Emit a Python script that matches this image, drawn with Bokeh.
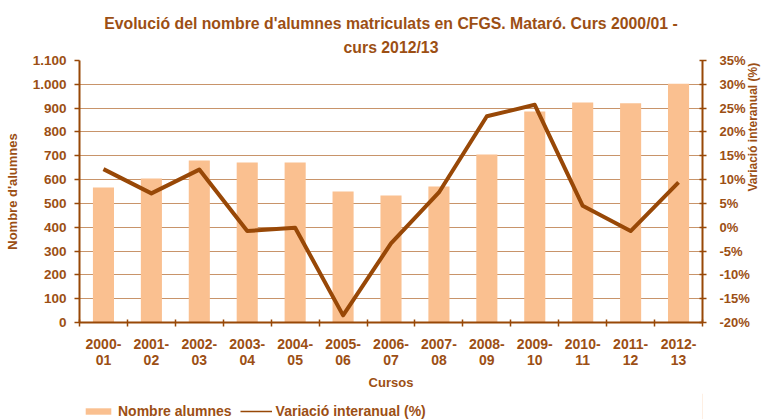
import math
from bokeh.plotting import figure
from bokeh.layouts import column
from bokeh.models import (Range1d, LinearAxis, FixedTicker, Title, Legend, LegendItem,
                          ColumnDataSource)
from bokeh.embed import file_html
from bokeh.resources import INLINE

# ---- data ----
cursos = ["2000-\n01", "2001-\n02", "2002-\n03", "2003-\n04", "2004-\n05", "2005-\n06",
          "2006-\n07", "2007-\n08", "2008-\n09", "2009-\n10", "2010-\n11", "2011-\n12",
          "2012-\n13"]
alumnes = [567, 605, 680, 672, 672, 550, 533, 571, 705, 886, 924, 920, 1002]
variacio = [12.2, 7.1, 12.1, -0.8, -0.1, -18.5, -3.4, 7.3, 23.3, 25.7, 4.5, -0.8, 9.4]
left_ticks = list(range(0, 1101, 100))
right_ticks = list(range(-20, 36, 5))

TXT = "#9C4F14"
AX = "#984807"
BAR = "#FAC090"
LINE = "#984807"
GRID = "#C8946A"
FONT = "Liberation Sans"

xpos = [i + 0.5 for i in range(len(cursos))]
src = ColumnDataSource(dict(x=xpos, alumnes=alumnes, variacio=variacio))

p = figure(width=769, height=393, output_backend="svg", toolbar_location=None,
           x_range=Range1d(0, len(cursos)), y_range=Range1d(0, 1100),
           min_border_left=79, min_border_right=66, min_border_top=60, min_border_bottom=71)
p.outline_line_color = None
p.extra_y_ranges = {"pct": Range1d(-20, 35)}

bars = p.vbar(x="x", top="alumnes", width=0.44, source=src, fill_color=BAR, line_color=None)
line = p.line(x="x", y="variacio", source=src, y_range_name="pct", line_color=LINE,
              line_width=4, line_join="round")

# x axis
xa = p.xaxis[0]
xa.ticker = FixedTicker(ticks=xpos, minor_ticks=list(range(len(cursos) + 1)))
xa.major_label_overrides = {x: c for x, c in zip(xpos, cursos)}
xa.major_tick_line_color = None
xa.minor_tick_line_color = AX
xa.minor_tick_line_width = 1.5
xa.minor_tick_in = 3
xa.minor_tick_out = 4
xa.axis_label = "Cursos"

# left axis
ya = p.yaxis[0]
ya.ticker = FixedTicker(ticks=left_ticks)
ya.major_label_overrides = {t: f"{t:,}".replace(",", ".") for t in left_ticks}
ya.axis_label = "Nombre d'alumnes"
ya.minor_tick_line_color = None
ya.major_tick_in = 0
ya.major_tick_out = 5

# right axis
ra = LinearAxis(y_range_name="pct", ticker=FixedTicker(ticks=right_ticks))
ra.major_label_overrides = {t: f"{t}%" for t in right_ticks}
ra.minor_tick_line_color = None
ra.major_tick_in = 3
ra.major_tick_out = 4
ra.axis_label = "Variació interanual (%)"
p.add_layout(ra, "right")

for ax in (xa, ya, ra):
    ax.axis_line_color = AX
    ax.axis_line_width = 2
    ax.major_tick_line_width = 1.5
    if ax is not xa:
        ax.major_tick_line_color = AX
    ax.major_label_text_font = FONT
    ax.major_label_text_font_style = "bold"
    ax.major_label_text_font_size = "13.5px"
    ax.major_label_text_color = TXT
    ax.axis_label_text_font = FONT
    ax.axis_label_text_font_style = "bold"
    ax.axis_label_text_font_size = "13px"
    ax.axis_label_text_color = TXT

xa.major_label_text_font_size = "14px"
xa.major_label_text_line_height = 1.05
xa.major_label_standoff = 7
xa.axis_label_standoff = 4
ya.major_label_standoff = 8
ya.axis_label_standoff = 10
ra.major_label_text_font_size = "13px"
ra.major_label_standoff = 13
ra.axis_label_standoff = 0
ra.axis_label_text_font_size = "12px"
try:
    ra.axis_label_orientation = math.pi / 2
except AttributeError:
    pass

p.xgrid.grid_line_color = None
p.ygrid.ticker = FixedTicker(ticks=left_ticks)
p.ygrid.grid_line_color = GRID
p.ygrid.grid_line_width = 1

# title (two lines)
p.add_layout(Title(text="curs 2012/13", align="center", offset=-9.5, text_font=FONT,
                   text_font_style="bold", text_font_size="15.8px", text_color=TXT,
                   standoff=10), "above")
p.add_layout(Title(text="Evolució del nombre d'alumnes matriculats en CFGS. Mataró. Curs 2000/01 -",
                   align="center", offset=-27, text_font=FONT, text_font_style="bold",
                   text_font_size="15.8px", text_color=TXT, standoff=0), "above")

# legend strip (its own small figure, with glyphs styled like the chart's)
lg = figure(width=769, height=26, output_backend="svg", toolbar_location=None,
            x_range=Range1d(0, 1), y_range=Range1d(0, 1), x_axis_type=None, y_axis_type=None,
            min_border=0)
lg.outline_line_color = None
lg.grid.visible = False
lbar = lg.vbar(x=[5], top=[5], width=0.1, fill_color=BAR, line_color=None)
lline = lg.line(x=[5, 6], y=[5, 6], line_color=LINE, line_width=1.5)
legend = Legend(items=[LegendItem(label="Nombre alumnes", renderers=[lbar]),
                       LegendItem(label="Variació interanual (%)", renderers=[lline])],
                orientation="horizontal", location=(3, 0), padding=0, margin=0,
                spacing=8, glyph_width=32, glyph_height=8, label_standoff=4,
                border_line_color=None, background_fill_alpha=0,
                label_text_font=FONT, label_text_font_style="bold",
                label_text_font_size="14px", label_text_color=TXT)
lg.add_layout(legend)

open("out.html", "w").write(file_html(column(p, lg, spacing=0), INLINE))
